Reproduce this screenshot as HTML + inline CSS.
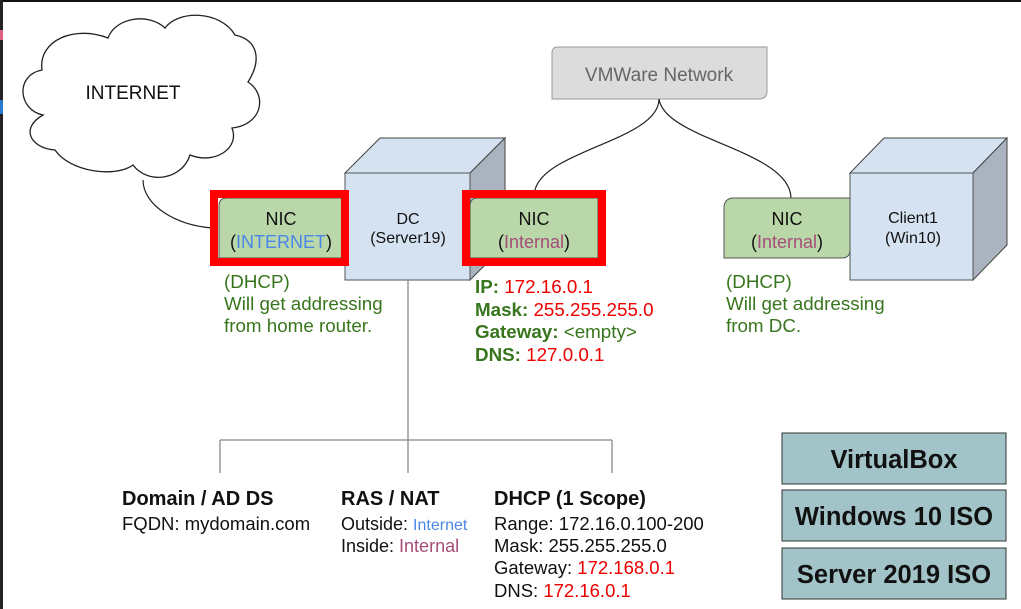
<!DOCTYPE html>
<html><head><meta charset="utf-8"><style>
html,body{margin:0;padding:0;background:#fff;}
svg{display:block;font-family:"Liberation Sans",Arial,sans-serif;}
</style></head><body>
<svg width="1021" height="609" viewBox="0 0 1021 609" xmlns="http://www.w3.org/2000/svg">
<rect x="0" y="0" width="1021" height="609" fill="#fff"/>
<rect x="0" y="0" width="1021" height="2" fill="#111"/>
<rect x="0" y="0" width="3" height="609" fill="#222"/>
<rect x="0" y="30" width="3" height="10" fill="#e06080"/>
<rect x="0" y="100" width="3" height="14" fill="#2a7ad0"/>

<!-- cloud -->
<path d="M43,115 C18,110 15,75 42,70 C38,40 75,25 108,38 C115,18 148,12 165,28 C178,10 220,10 235,35 C258,40 262,60 248,82 C268,95 262,125 232,128 C240,148 215,165 190,155 C182,180 148,185 133,165 C115,178 70,172 55,150 C30,148 20,128 43,115 Z" fill="#fff" stroke="#222" stroke-width="1.3"/>
<text x="133" y="99" font-size="19" text-anchor="middle" fill="#111">INTERNET</text>
<path d="M143,180 C143,205 175,225 212,228" fill="none" stroke="#222" stroke-width="1.2"/>

<!-- VMWare -->
<path d="M558,47 H767 V91 Q767,99 759,99 H552 V53 Q552,47 558,47 Z" fill="#dcdcdc" stroke="#999" stroke-width="1"/>
<text x="659" y="81" font-size="19" text-anchor="middle" fill="#666">VMWare Network</text>
<path d="M659,99 C659,140 545,150 535,190" fill="none" stroke="#222" stroke-width="1.2"/>
<path d="M659,99 C665,140 790,150 791,198" fill="none" stroke="#222" stroke-width="1.2"/>

<!-- DC cube -->
<polygon points="345,173 380,138 505,138 470,173" fill="#d4e2f1" stroke="#444" stroke-width="1"/>
<polygon points="470,173 505,138 505,245 470,280" fill="#a9b4c0" stroke="#444" stroke-width="1"/>
<rect x="345" y="173" width="125" height="107" fill="#d4e2f1" stroke="#555" stroke-width="1"/>
<text x="408" y="224" font-size="16" text-anchor="middle" fill="#111">DC</text>
<text x="408" y="243" font-size="16" text-anchor="middle" fill="#111">(Server19)</text>

<!-- client cube -->
<polygon points="850,173 884,138 1007,138 973,173" fill="#d4e2f1" stroke="#444" stroke-width="1"/>
<polygon points="973,173 1007,138 1007,245 973,280" fill="#a9b4c0" stroke="#444" stroke-width="1"/>
<rect x="850" y="173" width="123" height="107" fill="#d4e2f1" stroke="#555" stroke-width="1"/>
<text x="913" y="223" font-size="16" text-anchor="middle" fill="#111">Client1</text>
<text x="913" y="243" font-size="16" text-anchor="middle" fill="#111">(Win10)</text>

<!-- NIC left -->
<path d="M227,198 H342 V258 H219 V206 Q219,198 227,198 Z" fill="#b9d7a8" stroke="#555" stroke-width="1"/>
<rect x="214" y="194" width="131" height="68" fill="none" stroke="#f00" stroke-width="8"/>
<text x="281" y="225" font-size="18" text-anchor="middle" fill="#111">NIC</text>
<text x="281" y="248" font-size="18" text-anchor="middle" fill="#111">(<tspan fill="#4a86e8">INTERNET</tspan>)</text>

<!-- NIC middle -->
<path d="M478,198 H598 V258 H470 V206 Q470,198 478,198 Z" fill="#b9d7a8" stroke="#555" stroke-width="1"/>
<rect x="466" y="194" width="136" height="68" fill="none" stroke="#f00" stroke-width="8"/>
<text x="534" y="225" font-size="18" text-anchor="middle" fill="#111">NIC</text>
<text x="534" y="248" font-size="18" text-anchor="middle" fill="#111">(<tspan fill="#a64d79">Internal</tspan>)</text>

<!-- NIC client -->
<path d="M734,198 H850 V250 Q850,258 842,258 H724 V208 Q724,198 734,198 Z" fill="#b9d7a8" stroke="#555" stroke-width="1"/>
<text x="787" y="225" font-size="18" text-anchor="middle" fill="#111">NIC</text>
<text x="787" y="248" font-size="18" text-anchor="middle" fill="#111">(<tspan fill="#a64d79">Internal</tspan>)</text>

<!-- green notes -->
<g font-size="18.8" fill="#38761d">
<text x="224" y="288">(DHCP)</text>
<text x="224" y="310">Will get addressing</text>
<text x="224" y="332">from home router.</text>
<text x="726" y="288">(DHCP)</text>
<text x="726" y="310">Will get addressing</text>
<text x="726" y="332">from DC.</text>
</g>
<g font-size="18.8">
<text x="475" y="293"><tspan font-weight="bold" fill="#38761d">IP: </tspan><tspan fill="#e00">172.16.0.1</tspan></text>
<text x="475" y="316"><tspan font-weight="bold" fill="#38761d">Mask: </tspan><tspan fill="#e00">255.255.255.0</tspan></text>
<text x="475" y="338"><tspan font-weight="bold" fill="#38761d">Gateway: </tspan><tspan fill="#38761d">&lt;empty&gt;</tspan></text>
<text x="475" y="361"><tspan font-weight="bold" fill="#38761d">DNS: </tspan><tspan fill="#e00">127.0.0.1</tspan></text>
</g>

<!-- tree -->
<g stroke="#888" stroke-width="1.3" fill="none">
<line x1="408" y1="280" x2="408" y2="473"/>
<line x1="220" y1="440" x2="612" y2="440"/>
<line x1="220" y1="440" x2="220" y2="473"/>
<line x1="612" y1="440" x2="612" y2="473"/>
</g>

<g fill="#111">
<text x="122" y="505" font-size="20" font-weight="bold">Domain / AD DS</text>
<text x="122" y="530" font-size="18.5">FQDN: mydomain.com</text>
<text x="341" y="505" font-size="20" font-weight="bold">RAS / NAT</text>
<text x="341" y="530" font-size="18">Outside: <tspan fill="#4a86e8" font-size="16">Internet</tspan></text>
<text x="341" y="552" font-size="18">Inside: <tspan fill="#a64d79">Internal</tspan></text>
<text x="494" y="505" font-size="20" font-weight="bold">DHCP (1 Scope)</text>
<text x="494" y="530" font-size="18.5">Range: 172.16.0.100-200</text>
<text x="494" y="552" font-size="18.5">Mask: 255.255.255.0</text>
<text x="494" y="574" font-size="18.5">Gateway: <tspan fill="#e00">172.168.0.1</tspan></text>
<text x="494" y="597" font-size="18.5">DNS: <tspan fill="#e00">172.16.0.1</tspan></text>
</g>

<!-- right boxes -->
<g stroke="#333" stroke-width="1" fill="#a2c4c9">
<rect x="782" y="433" width="224" height="51"/>
<rect x="782" y="490" width="224" height="51"/>
<rect x="782" y="548" width="224" height="51"/>
</g>
<g font-size="25.5" font-weight="bold" fill="#111" text-anchor="middle">
<text x="894" y="468">VirtualBox</text>
<text x="894" y="525">Windows 10 ISO</text>
<text x="894" y="583">Server 2019 ISO</text>
</g>
</svg>
</body></html>
